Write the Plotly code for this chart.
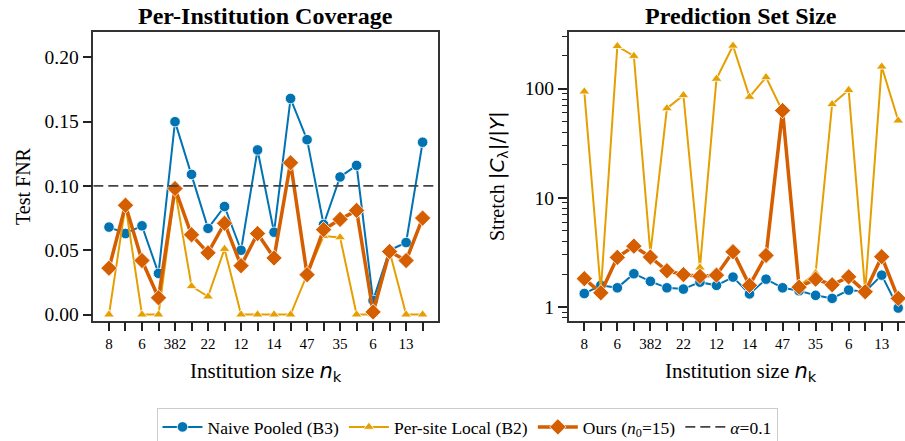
import plotly.graph_objects as go

# ---- data ----
sizes_labels = ["8", "", "6", "", "382", "", "22", "", "12", "", "14", "", "47", "", "35", "", "6", "", "13", ""]
idx = list(range(20))

fnr_naive = [0.068, 0.063, 0.069, 0.032, 0.150, 0.109, 0.067, 0.084, 0.050, 0.128,
             0.064, 0.168, 0.136, 0.070, 0.107, 0.116, 0.011, 0.050, 0.056, 0.134]
fnr_local = [0.000, 0.085, 0.000, 0.000, 0.097, 0.022, 0.014, 0.051, 0.000, 0.000,
             0.000, 0.000, 0.031, 0.061, 0.060, 0.000, 0.000, 0.049, 0.000, 0.000]
fnr_ours = [0.036, 0.085, 0.042, 0.013, 0.098, 0.062, 0.048, 0.071, 0.038, 0.063,
            0.044, 0.118, 0.031, 0.066, 0.074, 0.081, 0.002, 0.049, 0.042, 0.075]

str_naive = [1.33, 1.58, 1.50, 2.02, 1.72, 1.50, 1.46, 1.69, 1.58, 1.88,
             1.32, 1.80, 1.50, 1.41, 1.28, 1.20, 1.43, 1.38, 1.96, 0.98]
str_local = [94, 1.4, 245, 199, 3.1, 66, 87, 2.3, 123, 247,
             84, 127, 62, 1.55, 2.05, 72, 97, 1.4, 159, 51]
str_ours = [1.82, 1.35, 2.85, 3.61, 2.87, 2.15, 1.98, 1.91, 1.96, 3.21,
            1.58, 2.97, 63, 1.52, 1.80, 1.60, 1.89, 1.38, 2.89, 1.20]

alpha = 0.1

BLUE = "#0173B2"
YEL = "#E69F00"
ORG = "#D55E00"
SERIF = "Liberation Serif"

W, H = 905, 441


def px(xw):
    return xw / W


def py(yw):
    return 1 - yw / H


fig = go.Figure()


def add_series(xa, ya, yvals, show):
    fig.add_trace(go.Scatter(x=idx, y=yvals[0], xaxis=xa, yaxis=ya, mode="lines+markers",
                             name="Naive Pooled (B3)", showlegend=show, legendrank=1,
                             line=dict(color=BLUE, width=2),
                             marker=dict(symbol="circle", size=10.5, color=BLUE,
                                         line=dict(color="white", width=0.8))))
    fig.add_trace(go.Scatter(x=idx, y=yvals[1], xaxis=xa, yaxis=ya, mode="lines+markers",
                             name="Per-site Local (B2)", showlegend=show, legendrank=2,
                             line=dict(color=YEL, width=2),
                             marker=dict(symbol="triangle-up", size=9.5, color=YEL,
                                         line=dict(color="white", width=0.8))))
    fig.add_trace(go.Scatter(x=idx, y=yvals[2], xaxis=xa, yaxis=ya, mode="lines+markers",
                             name="Ours (<i>n</i><sub>0</sub>=15)", showlegend=show, legendrank=3,
                             line=dict(color=ORG, width=3.5),
                             marker=dict(symbol="diamond", size=12.5, color=ORG,
                                         line=dict(color="white", width=0.8))))


add_series("x", "y", [fnr_naive, fnr_local, fnr_ours], True)
add_series("x2", "y2", [str_naive, str_local, str_ours], False)

fig.add_trace(go.Scatter(x=[-0.95, 19.95], y=[alpha, alpha], xaxis="x", yaxis="y", mode="lines",
                         name="<i>α</i>=0.1", legendrank=4,
                         line=dict(color="#444444", width=1.8, dash="10px,5px")))

axis_common = dict(showline=True, linecolor="#333333", linewidth=1.5, ticks="outside",
                   tickcolor="#222222", tickwidth=1.5, ticklen=9, showgrid=False, zeroline=False)

ydom = [py(320.7), py(32.3)]

fig.update_layout(
    width=W, height=H,
    margin=dict(l=0, r=0, t=0, b=0, autoexpand=False),
    paper_bgcolor="white", plot_bgcolor="white",
    font=dict(family=SERIF, color="black"),
    xaxis=dict(domain=[px(93.3), px(438.3)], anchor="y", range=[-0.95, 19.95], mirror=True,
               tickmode="array", tickvals=idx, ticktext=sizes_labels,
               tickfont=dict(size=15, family=SERIF), **axis_common),
    yaxis=dict(domain=ydom, anchor="x", range=[-0.0048, 0.2195], mirror=True,
               tickmode="array", tickvals=[0, 0.05, 0.10, 0.15, 0.20],
               ticktext=["0.00", "0.05", "0.10", "0.15", "0.20"],
               tickfont=dict(size=19.5, family=SERIF), **axis_common),
    xaxis2=dict(domain=[px(568.6), px(905)], anchor="y2", range=[-0.95, 19.41], mirror=True,
                tickmode="array", tickvals=idx, ticktext=sizes_labels,
                tickfont=dict(size=15, family=SERIF), **axis_common),
    yaxis2=dict(domain=ydom, anchor="x2", type="log", range=[-0.125, 2.516],
                mirror=False, tickmode="array", tickvals=[1, 10, 100], ticktext=["1", "10", "100"],
                tickfont=dict(size=19.5, family=SERIF),
                minor=dict(ticks="outside", ticklen=5, tickwidth=1.2, tickcolor="#222222",
                           tickvals=[0.8, 0.9, 2, 3, 4, 5, 6, 7, 8, 9,
                                     20, 30, 40, 50, 60, 70, 80, 90, 200, 300]),
                **axis_common),
    legend=dict(orientation="h", x=px(467), xanchor="center", y=py(408), yanchor="top",
                bordercolor="#CCCCCC", borderwidth=1, bgcolor="white",
                font=dict(size=17.5, family=SERIF), itemwidth=40, tracegroupgap=0),
    showlegend=True,
)

ann = [
    dict(text="<b>Per-Institution Coverage</b>", x=px(265.8), y=py(16), font=dict(size=24)),
    dict(text="<b>Prediction Set Size</b>", x=px(741), y=py(16), font=dict(size=24)),
    dict(text="Institution size <span style='font-family:DejaVu Sans'><i>n</i><sub>k</sub></span>",
         x=px(265.8), y=py(372), font=dict(size=21)),
    dict(text="Institution size <span style='font-family:DejaVu Sans'><i>n</i><sub>k</sub></span>",
         x=px(741), y=py(372), font=dict(size=21)),
    dict(text="Test FNR", x=px(23), y=py(186), textangle=-90, font=dict(size=20)),
    dict(text="Stretch <span style='font-family:DejaVu Sans'>|<i>C</i><sub>λ</sub>|/|<i>Y</i>|</span>",
         x=px(498), y=py(176), textangle=-90, font=dict(size=20)),
]
for a in ann:
    fig.add_annotation(xref="paper", yref="paper", showarrow=False, xanchor="center",
                       yanchor="middle", font_family=SERIF, **a)

fig.write_html("out.html", config={"displayModeBar": False},
               post_script="document.body.style.margin='0';document.body.style.overflow='hidden';")
